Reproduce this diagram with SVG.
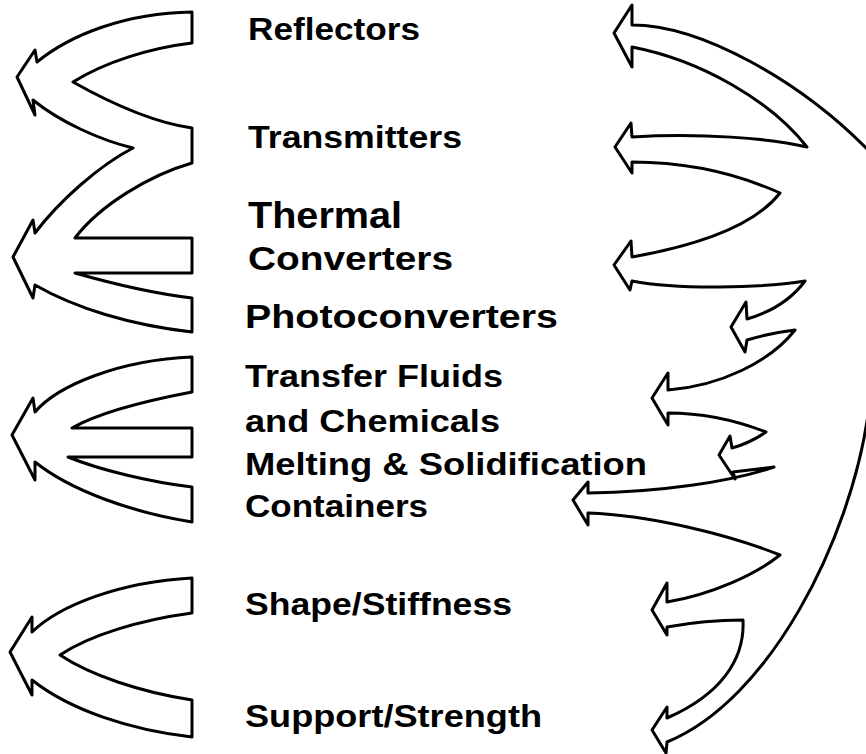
<svg xmlns="http://www.w3.org/2000/svg" width="866" height="754" viewBox="0 0 866 754">
  <style>
    .bg { fill: #ffffff; }
    .outline { fill: none; stroke: #000; stroke-width: 3; stroke-linejoin: round; stroke-linecap: round; }
    .label { font-family: "Liberation Sans", Arial, Helvetica, sans-serif; font-weight: bold; fill: #000; }
  </style>
  <rect class="bg" x="0" y="0" width="866" height="754"/>

  <!-- Hollow branching arrows -->
  <g id="connectors">
    <!-- Left: upper pair of merged arrows (four arms) -->
    <path class="outline" d="M17,77 L35,50 L37,62 C70,35 125,13 192,12 L192,43 C150,48 105,62 73,82 C105,100 150,122 192,128 L192,163 C150,175 100,205 75,238 L192,238 L192,273 L75,273 C110,283 150,293 192,298 L192,332 C130,325 75,308 35,285 L33,298 L13,257 L33,220 L35,233 C60,200 100,165 133,148 C100,140 60,122 33,100 L35,115 Z"/>
    <!-- Left: three-armed arrow -->
    <path class="outline" d="M12,435 L33,398 L35,412 C58,385 120,360 192,357 L192,392 C150,400 100,412 72,428 L192,428 L192,457 L68,457 C100,470 150,482 192,487 L192,522 C130,512 70,490 35,462 L35,480 Z"/>
    <!-- Left: two-armed arrow -->
    <path class="outline" d="M10,652 L32,617 L32,632 C60,605 120,582 192,578 L192,613 C140,620 90,635 60,655 C90,675 140,692 192,700 L192,737 C130,730 70,710 32,680 L32,695 Z"/>
    <!-- Right: fanned arrows sharing the outer sweep -->
    <path class="outline" d="M868,415 C850,540 770,700 667,742 L666,753 L652,730 L667,707 L667,718 C720,695 745,660 743,620 Q705,620 667,627 L667,635 L652,610 L667,583 L667,602 C710,595 755,575 780,555 C730,535 650,515 588,513 L588,525 L573,500 L588,482 L588,493 C660,492 730,482 774,467 L733,472 L735,479 L719,455 L730,436 L732,448 Q750,443 766,432 C735,420 700,413 668,413 L668,425 L652,398 L668,373 L668,390 C720,386 770,362 795,330 Q770,333 747,340 L745,352 L731,327 L746,302 L747,319 Q785,308 805,281 C760,288 680,290 632,281 L630,290 L614,265 L631,241 L632,257 C700,245 755,225 780,193 C740,175 690,162 632,162 L632,173 L615,147 L631,123 L632,137 C700,133 770,138 807,147 C770,100 700,60 632,47 L632,67 L614,33 L632,5 L632,25 C700,25 800,80 870,152"/>
  </g>

  <!-- Labels -->
  <g id="reflectors"><text class="label" x="248" y="40" font-size="32" textLength="172" lengthAdjust="spacingAndGlyphs">Reflectors</text></g>
  <g id="transmitters"><text class="label" x="248" y="148" font-size="31" textLength="214" lengthAdjust="spacingAndGlyphs">Transmitters</text></g>
  <g id="thermal-converters">
    <text class="label" x="248" y="228" font-size="37" textLength="154" lengthAdjust="spacingAndGlyphs">Thermal</text>
    <text class="label" x="248" y="270" font-size="34" textLength="205" lengthAdjust="spacingAndGlyphs">Converters</text>
  </g>
  <g id="photoconverters"><text class="label" x="245" y="328" font-size="34" textLength="313" lengthAdjust="spacingAndGlyphs">Photoconverters</text></g>
  <g id="transfer-fluids">
    <text class="label" x="245" y="387" font-size="32" textLength="258" lengthAdjust="spacingAndGlyphs">Transfer Fluids</text>
    <text class="label" x="245" y="432" font-size="32" textLength="255" lengthAdjust="spacingAndGlyphs">and Chemicals</text>
  </g>
  <g id="melting-solidification"><text class="label" x="245" y="475" font-size="32" textLength="402" lengthAdjust="spacingAndGlyphs">Melting &amp; Solidification</text></g>
  <g id="containers"><text class="label" x="245" y="517" font-size="32" textLength="183" lengthAdjust="spacingAndGlyphs">Containers</text></g>
  <g id="shape-stiffness"><text class="label" x="245" y="615" font-size="32" textLength="267" lengthAdjust="spacingAndGlyphs">Shape/Stiffness</text></g>
  <g id="support-strength"><text class="label" x="245" y="727" font-size="32" textLength="297" lengthAdjust="spacingAndGlyphs">Support/Strength</text></g>
</svg>
